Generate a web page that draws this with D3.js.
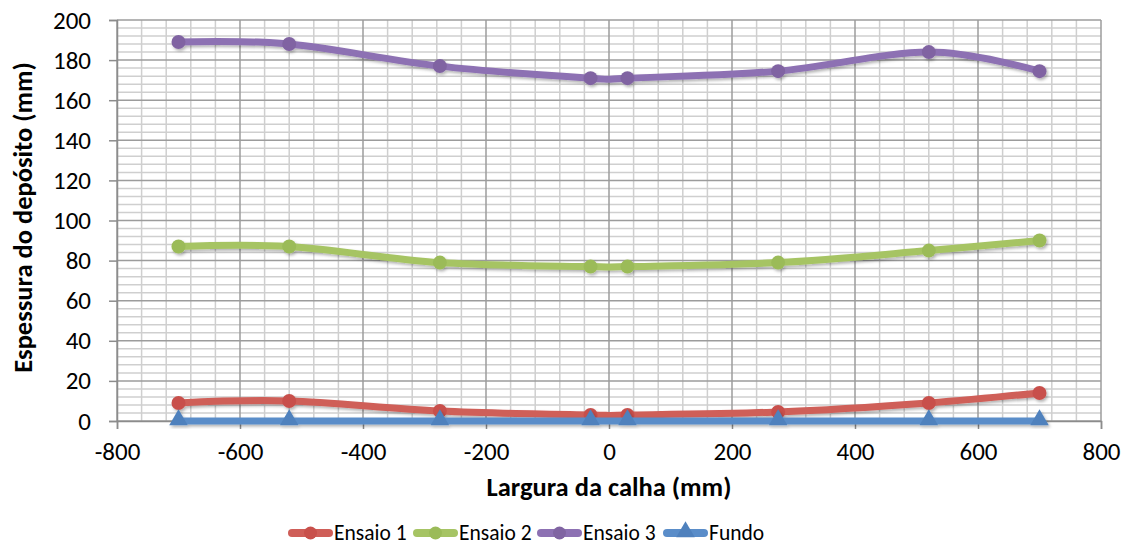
<!DOCTYPE html>
<html>
<head>
<meta charset="utf-8">
<script src="https://cdn.jsdelivr.net/npm/d3@7/dist/d3.min.js"></script>
<style>
  html, body { margin: 0; padding: 0; background: #fff; }
  svg { display: block; font-family: Carlito, Calibri, Lato, "Open Sans", sans-serif; }
</style>
</head>
<body>
<svg id="chart" width="1127" height="546"></svg>
<script>
// Largura da calha (mm) – measuring positions across the flume
const positions = [-700, -520, -275, -30, 30, 275, 520, 700];

// Espessura do depósito (mm) per test
const ensaio1 = [9, 10, 5, 3, 3, 4.5, 9, 14];
const ensaio2 = [87, 87, 79, 77, 77, 79, 85, 90];
const ensaio3 = [189, 188, 177, 171, 171, 174.5, 184, 174.5];
const fundo   = [0, 0, 0, 0, 0, 0, 0, 0];

const seriesNames = ["Ensaio 1", "Ensaio 2", "Ensaio 3", "Fundo"];
const xTicks = [-800, -600, -400, -200, 0, 200, 400, 600, 800];
const yTicks = [0, 20, 40, 60, 80, 100, 120, 140, 160, 180, 200];

const series = [
  { name: seriesNames[0], values: ensaio1, line: "#CF5E58", mark: "#C8504B", shape: "circle" },
  { name: seriesNames[1], values: ensaio2, line: "#A6C464", mark: "#9BBB59", shape: "circle" },
  { name: seriesNames[2], values: ensaio3, line: "#8D71B3", mark: "#8064A2", shape: "circle" },
  { name: seriesNames[3], values: fundo,   line: "#5A8DC9", mark: "#4F81BD", shape: "triangle" }
];

const svg = d3.select("#chart");
const plot = { left: 117, right: 1101, top: 20, bottom: 421 };

const x = d3.scaleLinear().domain([-800, 800]).range([plot.left, plot.right]);
const y = d3.scaleLinear().domain([0, 200]).range([plot.bottom, plot.top]);

// soft drop shadow under the lines and markers
const defs = svg.append("defs");
const f = defs.append("filter").attr("id", "shadow")
  .attr("x", "-20%").attr("y", "-20%").attr("width", "140%").attr("height", "140%");
f.append("feDropShadow").attr("dx", 1.5).attr("dy", 2).attr("stdDeviation", 1.5)
  .attr("flood-color", "#000").attr("flood-opacity", 0.3);

// minor grid
const grid = svg.append("g");
d3.range(-800, 801, 40).forEach(v => {
  if (v % 200 !== 0) grid.append("line")
    .attr("x1", x(v)).attr("x2", x(v)).attr("y1", plot.top).attr("y2", plot.bottom)
    .attr("stroke", "#cfcfcf").attr("stroke-width", 1.5);
});
d3.range(0, 201, 4).forEach(v => {
  if (v % 20 !== 0) grid.append("line")
    .attr("x1", plot.left).attr("x2", plot.right).attr("y1", y(v)).attr("y2", y(v))
    .attr("stroke", "#cfcfcf").attr("stroke-width", 1.5);
});
// major grid
xTicks.forEach(v => grid.append("line")
  .attr("x1", x(v)).attr("x2", x(v)).attr("y1", plot.top).attr("y2", plot.bottom)
  .attr("stroke", "#9c9c9c").attr("stroke-width", 1.5));
yTicks.forEach(v => grid.append("line")
  .attr("x1", plot.left).attr("x2", plot.right).attr("y1", y(v)).attr("y2", y(v))
  .attr("stroke", "#9c9c9c").attr("stroke-width", 1.5));

// axes (plain hyphen for negatives)
const fmt = d => String(d);
const xAxis = svg.append("g").attr("transform", `translate(0,${plot.bottom})`)
  .call(d3.axisBottom(x).tickValues(xTicks).tickSize(8).tickPadding(13).tickFormat(fmt));
const yAxis = svg.append("g").attr("transform", `translate(${plot.left},0)`)
  .call(d3.axisLeft(y).tickValues(yTicks).tickSize(8).tickPadding(18).tickFormat(fmt));
[xAxis, yAxis].forEach(a => {
  a.select(".domain").attr("stroke", "#8c8c8c").attr("stroke-width", 1.5);
  a.selectAll(".tick line").attr("stroke", "#8c8c8c").attr("stroke-width", 1.5);
  a.selectAll(".tick text").attr("fill", "#000").style("font-size", "25px")
    .style("font-family", "Carlito, Calibri, Lato, 'Open Sans', sans-serif");
});

// axis titles
svg.append("text")
  .attr("x", (plot.left + plot.right) / 2).attr("y", 496)
  .attr("text-anchor", "middle").attr("font-weight", "bold").attr("font-size", "26.5px")
  .text("Largura da calha (mm)");
svg.append("text")
  .attr("transform", `translate(32,${(plot.top + plot.bottom) / 2 - 3}) rotate(-90)`)
  .attr("text-anchor", "middle").attr("font-weight", "bold").attr("font-size", "26.5px")
  .text("Espessura do depósito (mm)");

// series
const lineGen = d3.line()
  .x((d, i) => x(positions[i]))
  .y(d => y(d))
  .curve(d3.curveCatmullRom.alpha(0));

const tri = d3.symbol().type(d3.symbolTriangle).size(150);

series.forEach(s => {
  const g = svg.append("g").attr("filter", "url(#shadow)");
  g.append("path").datum(s.values)
    .attr("d", lineGen).attr("fill", "none")
    .attr("stroke", s.line).attr("stroke-width", 7)
    .attr("stroke-linecap", "round").attr("stroke-linejoin", "round");
  if (s.shape === "circle") {
    g.selectAll("circle").data(s.values).join("circle")
      .attr("cx", (d, i) => x(positions[i])).attr("cy", d => y(d))
      .attr("r", 7).attr("fill", s.mark);
  } else {
    g.selectAll("path.m").data(s.values).join("path").attr("class", "m")
      .attr("transform", (d, i) => `translate(${x(positions[i])},${y(d) - 1})`)
      .attr("d", tri).attr("fill", s.mark);
  }
});

// legend
const legendX = [288, 413, 537, 663];
const legend = svg.append("g");
series.forEach((s, i) => {
  const g = legend.append("g").attr("transform", `translate(${legendX[i]},533)`);
  g.append("line").attr("x1", 4).attr("x2", 41).attr("y1", 0).attr("y2", 0)
    .attr("stroke", s.line).attr("stroke-width", 8).attr("stroke-linecap", "round");
  if (s.shape === "circle") {
    g.append("circle").attr("cx", 22.5).attr("cy", 0).attr("r", 6.5).attr("fill", s.mark);
  } else {
    g.append("path").attr("transform", "translate(22.5,-1)").attr("d", tri).attr("fill", s.mark);
  }
  g.append("text").attr("x", 46).attr("y", 0).attr("dy", "0.33em")
    .attr("font-size", "21.5px").attr("fill", "#000").text(s.name);
});
</script>
</body>
</html>
